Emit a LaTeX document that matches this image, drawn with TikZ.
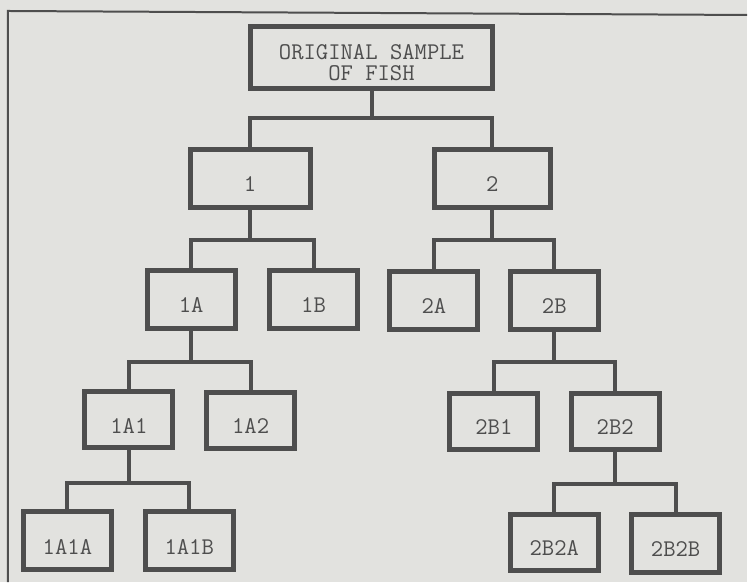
\documentclass[tikz,border=0pt]{standalone}
\usepackage{fontspec}
\usepackage{tikz}
\newcommand{\defaultboxwidth}{44pt}
\newcommand{\boxwidth}{\defaultboxwidth}
\definecolor{paper}{HTML}{E2E2DF}
\definecolor{ink}{HTML}{4E4E4E}
\tikzstyle{sample}=[draw=ink, line width=2.5pt, inner sep=0, outer sep=0,
                    minimum width=\boxwidth, minimum height=29pt, text=ink,
                    % Text sits a little below the middle of each box.
                    font=\ttfamily\fontsize{12}{10.5}\selectfont, text height=13.3pt, text depth=0pt]
\tikzstyle{wsample}=[sample, minimum width=60pt]
\tikzstyle{rsample}=[sample, minimum width=121pt, minimum height=31pt, align=center, text height=22.3pt]
\tikzstyle{link}=[draw=ink, line width=2pt]
\tikzstyle{frame}=[draw=ink, line width=1pt]
\tikzstyle{fishtree}=[x=0.5pt, y=-0.5pt]
\begin{document}
\begin{tikzpicture}[fishtree]
    \fill[paper] (0, 0) rectangle (748, 583);
    \draw[frame] (748, 15) -- (8, 11) -- (8, 583);
    \node[rsample] (root) at (372, 58) {ORIGINAL SAMPLE\\OF FISH};
    \node[wsample] (n1) at (250.5, 178.5) {1};
    \node[wsample, minimum width=58pt] (n2) at (493, 178.5) {2};
    \node[sample] (n1A) at (191.5, 299.5) {1A};
    \node[sample] (n1B) at (314, 300) {1B};
    \node[sample] (n2A) at (434.5, 301) {2A};
    \node[sample] (n2B) at (555, 301) {2B};
    \node[sample, minimum height=28pt] (n1A1) at (129, 420.5) {1A1};
    \node[sample, minimum height=28pt] (n1A2) at (251, 421) {1A2};
    \node[sample, minimum height=28pt] (n2B1) at (494.5, 422) {2B1};
    \node[sample, minimum height=28pt] (n2B2) at (616, 422) {2B2};
    \node[sample] (n1A1A) at (67.5, 541.5) {1A1A};
    \node[sample] (n1A1B) at (189.5, 541.5) {1A1B};
    \node[sample, minimum height=28pt] (n2B2A) at (555, 543) {2B2A};
    \node[sample] (n2B2B) at (676.5, 544) {2B2B};
    \coordinate (j) at (372, 118);
    \coordinate (j1) at (250.5, 240);
    \coordinate (j2) at (493, 240);
    \coordinate (j1A) at (191.5, 362);
    \coordinate (j2B) at (555, 362);
    \coordinate (j1A1) at (129, 484);
    \coordinate (j2B2) at (616, 485);
    \draw[link] (root) -- (j) -| (n1);
    \draw[link] (j) -| (n2);
    \draw[link] (n1) -- (j1) -| (n1A);
    \draw[link] (j1) -| (n1B);
    \draw[link] (n2) -- (j2) -| (n2A);
    \draw[link] (j2) -| (n2B);
    \draw[link] (n1A) -- (j1A) -| (n1A1);
    \draw[link] (j1A) -| (n1A2);
    \draw[link] (n2B) -- (j2B) -| (n2B1);
    \draw[link] (j2B) -| (n2B2);
    \draw[link] (n1A1) -- (j1A1) -| (n1A1A);
    \draw[link] (j1A1) -| (n1A1B);
    \draw[link] (n2B2) -- (j2B2) -| (n2B2A);
    \draw[link] (j2B2) -| (n2B2B);
\end{tikzpicture}
\end{document}
